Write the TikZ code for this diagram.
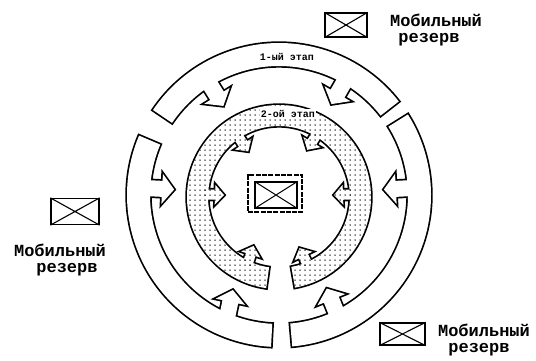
\documentclass[tikz,border=0pt]{standalone}
\usepackage{fontspec}
\newfontfamily\tw{Liberation Mono}
\usetikzlibrary{patterns.meta}

\tikzset{
  reservebox/.style={draw, line width=1.3pt, inner sep=0pt},
  reservetext/.style={font=\tw\bfseries\fontsize{17}{14}\selectfont, inner sep=0pt, anchor=base},
  stagelabel/.style={font=\tw\bfseries\fontsize{10}{10}\selectfont, inner sep=1pt},
  outline/.style={draw=black, line width=3.4pt},
  whitefill/.style={fill=white},
  dotfill/.style={pattern={Dots[distance=5pt, radius=0.75pt]}, pattern color=black},
}

% outer ring pieces (centre set by the calling scope)
\newcommand\OuterSeg[3]{\path[#1] (#2:152pt) arc[start angle=#2, end angle=#3, radius=152pt]
  -- (#3:129pt) arc[start angle=#3, end angle=#2, radius=129pt] -- cycle;}
\newcommand\OuterArrow[3]{\path[#1, shift={(#2:133pt)}, rotate=#3]
  (0,-8pt) -- (16pt,-8pt) -- (16pt,-15pt) -- (28pt,0pt) -- (16pt,15pt) -- (16pt,8pt) -- (0,8pt) -- cycle;}
\newcommand\OuterAll[1]{%
  \begin{scope}[shift={(279pt,165pt)}]
    \OuterSeg{#1}{38}{146}
    \OuterSeg{#1}{157}{267}
    \OuterSeg{#1}{-85}{32}
    \OuterArrow{#1}{122}{-58}
    \OuterArrow{#1}{60}{240}
    \OuterArrow{#1}{177}{-3}
    \OuterArrow{#1}{3}{183}
    \OuterArrow{#1}{247}{78}
    \OuterArrow{#1}{296}{112}
  \end{scope}}

% inner (dotted) ring pieces
\newcommand\InnerSeg[3]{\path[#1] (#2:92pt) arc[start angle=#2, end angle=#3, radius=92pt]
  -- (#3:71pt) arc[start angle=#3, end angle=#2, radius=71pt] -- cycle;}
\newcommand\InnerArrow[3]{\path[#1, shift={(#2:75pt)}, rotate=#3]
  (0,-5pt) -- (11pt,-5pt) -- (11pt,-10pt) -- (20pt,0pt) -- (11pt,10pt) -- (11pt,5pt) -- (0,5pt) -- cycle;}
\newcommand\InnerAll[1]{%
  \begin{scope}[shift={(279pt,163pt)}]
    \InnerSeg{#1}{-80}{262}
    \InnerArrow{#1}{124}{-56}
    \InnerArrow{#1}{59}{239}
    \InnerArrow{#1}{178}{-2}
    \InnerArrow{#1}{2}{182}
    \InnerArrow{#1}{245}{72}
    \InnerArrow{#1}{293}{116}
  \end{scope}}

\begin{document}
\begin{tikzpicture}[x=1pt,y=1pt]
  \useasboundingbox (0,0) rectangle (536,360);

  % rings with arrows: outline of the union, then white, then dots
  \OuterAll{outline}
  \InnerAll{outline}
  \OuterAll{whitefill}
  \InnerAll{whitefill}
  \InnerAll{dotfill}

  % stage labels
  \node[stagelabel] (st1) at (287,303) {1-ый этап};
  \node[stagelabel, fill=white] (st2) at (288,246) {2-ой этап};

  % central object
  \node[draw, line width=1.6pt, dash pattern=on 5pt off 1.3pt, minimum width=54pt, minimum height=37pt, inner sep=0pt] (cbox) at (275,166.5) {};
  \node[draw, line width=1.2pt, minimum width=42pt, minimum height=26pt, inner sep=0pt] (cin) at (276,165) {};
  \draw[line width=1pt] (cin.north west) -- (cin.south east) (cin.north east) -- (cin.south west);

  % mobile reserves
  \node[reservebox, minimum width=42pt, minimum height=24pt] (rtr) at (346,335) {};
  \draw[line width=1.1pt] (rtr.north west) -- (rtr.south east) (rtr.north east) -- (rtr.south west);
  \node[reservetext] (ttr1) at (436,334) {Мобильный};
  \node[reservetext] (ttr2) at (429,318) {резерв};

  \node[reservebox, minimum width=48pt, minimum height=26pt] (rl) at (75,148.5) {};
  \draw[line width=1.1pt] (rl.north west) -- (rl.south east) (rl.north east) -- (rl.south west);
  \node[reservetext] (tl1) at (60,104) {Мобильный};
  \node[reservetext] (tl2) at (67,88) {резерв};

  \node[reservebox, minimum width=45pt, minimum height=22pt] (rbr) at (402.5,26) {};
  \draw[line width=1.1pt] (rbr.north west) -- (rbr.south east) (rbr.north east) -- (rbr.south west);
  \node[reservetext] (tbr1) at (484,24) {Мобильный};
  \node[reservetext] (tbr2) at (479,8) {резерв};
\end{tikzpicture}
\end{document}
